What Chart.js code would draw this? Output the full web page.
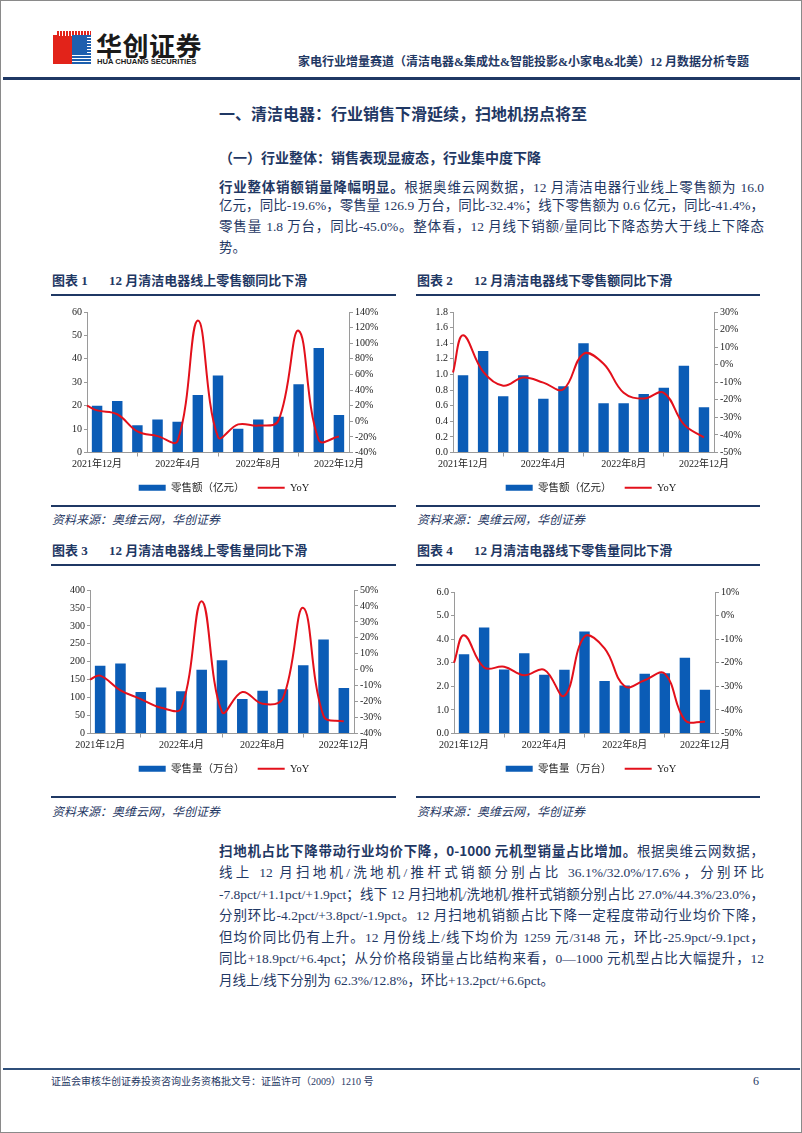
<!DOCTYPE html>
<html lang="zh-CN">
<head>
<meta charset="utf-8">
<title>家电行业增量赛道 - 清洁电器</title>
<script src="https://cdn.jsdelivr.net/npm/chart.js@4.4.1/dist/chart.umd.min.js"></script>
<style>
  html, body { margin: 0; padding: 0; background: #fff; }
  #page {
    position: relative; width: 802px; height: 1133px; box-sizing: border-box;
    border: 1px solid #8a8a8a; overflow: hidden;
    font-family: "Liberation Serif", "Noto Sans CJK SC", serif; color: #1f3864;
  }
  .abs { position: absolute; white-space: nowrap; }
  .rule { position: absolute; background: #1f3864; }
  .ln {
    position: absolute; left: 218px; width: 545px; height: 20px; line-height: 20px;
    font-size: 13.5px; text-align: justify; text-align-last: justify;
  }
  .ln.last { text-align-last: left; }
  .ln b { font-family: "Noto Sans CJK SC", sans-serif; font-weight: 700; }
  .ctitle { position: absolute; font-size: 13px; font-weight: 700; line-height: 16px;
            font-family: "Liberation Serif", "Noto Sans CJK SC", serif; white-space: nowrap; }
  .src { position: absolute; font-size: 12px; font-style: italic; line-height: 14px; white-space: nowrap; }
  canvas { position: absolute; }
  /* logo */
  #logo { position: absolute; left: 52px; top: 30px; width: 38px; height: 33px; }
  #logo .red { position: absolute; left: 0; top: 4px; width: 19px; height: 29px; background: #e2231a; }
  #logo .redtop { position: absolute; left: 4px; top: 0; width: 34px; height: 5px;
    background: repeating-linear-gradient(90deg, #e2231a 0 2px, #fff 2px 3px); }
  #logo .blue { position: absolute; left: 19px; top: 4px; width: 19px; height: 29px;
    background: repeating-linear-gradient(180deg, #1d5fae 0 2px, #fff 2px 3px); }
  #logo .bluein { position: absolute; left: 19px; top: 4px; width: 15px; height: 20px; background: #1d5fae; }
</style>
</head>
<body>
<div id="page">
  <!-- header -->
  <div id="logo"><div class="red"></div><div class="redtop"></div><div class="blue"></div><div class="bluein"></div></div>
  <div class="abs" style="left:95px;top:29px;font-size:26px;line-height:30px;font-weight:700;color:#1a1a1a;font-family:'Noto Sans CJK SC',sans-serif;letter-spacing:0.5px;">华创证券</div>
  <div class="abs" style="left:96px;top:56px;font-size:7.6px;line-height:10px;font-weight:700;color:#1a1a1a;font-family:'Liberation Sans',sans-serif;">HUA CHUANG SECURITIES</div>
  <div class="abs" style="left:297px;top:53px;font-size:12px;line-height:16px;font-weight:700;">家电行业增量赛道（清洁电器&amp;集成灶&amp;智能投影&amp;小家电&amp;北美）12 月数据分析专题</div>
  <div class="rule" style="left:2px;top:76px;width:797px;height:3px;"></div>

  <!-- section headings -->
  <div class="abs" style="left:218px;top:102px;font-size:16px;line-height:20px;font-weight:700;font-family:'Noto Sans CJK SC',sans-serif;">一、清洁电器：行业销售下滑延续，扫地机拐点将至</div>
  <div class="abs" style="left:218px;top:147px;font-size:14px;line-height:18px;font-weight:700;font-family:'Noto Sans CJK SC',sans-serif;">（一）行业整体：销售表现显疲态，行业集中度下降</div>

  <div class="ln" style="top:175px;"><b>行业整体销额销量降幅明显。</b>根据奥维云网数据，12 月清洁电器行业线上零售额为 16.0</div>
  <div class="ln" style="top:195px;">亿元，同比-19.6%，零售量 126.9 万台，同比-32.4%；线下零售额为 0.6 亿元，同比-41.4%，</div>
  <div class="ln" style="top:216px;">零售量 1.8 万台，同比-45.0%。整体看，12 月线下销额/量同比下降态势大于线上下降态</div>
  <div class="ln last" style="top:237px;">势。</div>

  <!-- chart titles row 1 -->
  <div class="ctitle" style="left:51px;top:272px;">图表 1</div>
  <div class="ctitle" style="left:108px;top:272px;">12 月清洁电器线上零售额同比下滑</div>
  <div class="rule" style="left:50px;top:293px;width:345px;height:1.5px;"></div>
  <div class="ctitle" style="left:416px;top:272px;">图表 2</div>
  <div class="ctitle" style="left:473px;top:272px;">12 月清洁电器线下零售额同比下滑</div>
  <div class="rule" style="left:415px;top:293px;width:344px;height:1.5px;"></div>

  <canvas id="c1" width="350" height="202" style="left:48px;top:300px;width:350px;height:202px;"></canvas>
  <canvas id="c2" width="350" height="202" style="left:415px;top:300px;width:350px;height:202px;"></canvas>

  <div class="rule" style="left:50px;top:504px;width:345px;height:1.5px;"></div>
  <div class="rule" style="left:415px;top:504px;width:344px;height:1.5px;"></div>
  <div class="src" style="left:51px;top:512px;">资料来源：奥维云网，华创证券</div>
  <div class="src" style="left:416px;top:512px;">资料来源：奥维云网，华创证券</div>

  <!-- chart titles row 2 -->
  <div class="ctitle" style="left:51px;top:542px;">图表 3</div>
  <div class="ctitle" style="left:108px;top:542px;">12 月清洁电器线上零售量同比下滑</div>
  <div class="rule" style="left:50px;top:563px;width:345px;height:1.5px;"></div>
  <div class="ctitle" style="left:416px;top:542px;">图表 4</div>
  <div class="ctitle" style="left:473px;top:542px;">12 月清洁电器线下零售量同比下滑</div>
  <div class="rule" style="left:415px;top:563px;width:344px;height:1.5px;"></div>

  <canvas id="c3" width="350" height="208" style="left:48px;top:575px;width:350px;height:208px;"></canvas>
  <canvas id="c4" width="350" height="208" style="left:415px;top:575px;width:350px;height:208px;"></canvas>

  <div class="rule" style="left:50px;top:795px;width:345px;height:1.5px;"></div>
  <div class="rule" style="left:415px;top:795px;width:344px;height:1.5px;"></div>
  <div class="src" style="left:51px;top:804px;">资料来源：奥维云网，华创证券</div>
  <div class="src" style="left:416px;top:804px;">资料来源：奥维云网，华创证券</div>

  <!-- second paragraph -->
  <div class="ln" style="top:839px;"><b>扫地机占比下降带动行业均价下降，0-1000 元机型销量占比增加。</b>根据奥维云网数据，</div>
  <div class="ln" style="top:862px;">线上 12 月扫地机/洗地机/推杆式销额分别占比 36.1%/32.0%/17.6%，分别环比</div>
  <div class="ln" style="top:884px;">-7.8pct/+1.1pct/+1.9pct；线下 12 月扫地机/洗地机/推杆式销额分别占比 27.0%/44.3%/23.0%，</div>
  <div class="ln" style="top:905px;">分别环比-4.2pct/+3.8pct/-1.9pct。12 月扫地机销额占比下降一定程度带动行业均价下降，</div>
  <div class="ln" style="top:927px;">但均价同比仍有上升。12 月份线上/线下均价为 1259 元/3148 元，环比-25.9pct/-9.1pct，</div>
  <div class="ln" style="top:948px;">同比+18.9pct/+6.4pct；从分价格段销量占比结构来看，0—1000 元机型占比大幅提升，12</div>
  <div class="ln last" style="top:970px;">月线上/线下分别为 62.3%/12.8%，环比+13.2pct/+6.6pct。</div>

  <!-- footer -->
  <div class="rule" style="left:2px;top:1067px;width:797px;height:2px;background:#2f4f7a;"></div>
  <div class="abs" style="left:50px;top:1074px;font-size:10px;line-height:13px;">证监会审核华创证券投资咨询业务资格批文号：证监许可（2009）1210 号</div>
  <div class="abs" style="left:752px;top:1073px;font-size:12px;line-height:14px;">6</div>
</div>

<script>
// categories
const months = ['2021年12月', '2022年1月', '2022年2月', '2022年3月', '2022年4月', '2022年5月',
  '2022年6月', '2022年7月', '2022年8月', '2022年9月', '2022年10月', '2022年11月', '2022年12月'];

// chart 1: online sales value (亿元) + YoY (%)
// yoy arrays start with the prior-month value, which sits on the axis edge
const onlineValue = [20.0, 22.0, 11.6, 14.1, 13.1, 24.6, 32.9, 10.1, 14.1, 15.3, 29.1, 44.6, 16.0];
const onlineValueYoy = [20, 14, 9, -13, -19, -25, 129, -20, -4, -5.5, 1, 116, -24, -19.6];

// chart 2: offline sales value (亿元) + YoY
const offlineValue = [0.99, 1.30, 0.72, 0.99, 0.69, 0.85, 1.40, 0.63, 0.63, 0.75, 0.83, 1.11, 0.58];
const offlineValueYoy = [-4.5, 16.7, -4, -12, -7.3, -10.2, -14, 6.2, 0.5, -16, -19.3, -16, -34, -41.4];

// chart 3: online sales volume (万台) + YoY
const onlineVolume = [189, 195, 116, 128, 118, 178, 204, 96, 119, 123, 190, 262, 127];
const onlineVolumeYoy = [-6.2, -3.7, -12.9, -18.4, -23.9, -24, 43, -26.5, -14, -21.4, -18, 38.8, -29, -32.4];

// chart 4: offline sales volume (万台) + YoY
const offlineVolume = [3.36, 4.50, 2.71, 3.40, 2.49, 2.70, 4.33, 2.23, 2.04, 2.53, 2.56, 3.21, 1.86];
const offlineVolumeYoy = [-20, -8.3, -22, -21.7, -25.3, -23, -34, -8.9, -13.9, -30, -27.4, -24.6, -44.3, -45];

const BLUE = '#0b5cb6';
const RED = '#e3101b';
const AXIS = '#9a9a9a';
const TICK_FONT = { family: "'Liberation Serif', 'Noto Sans CJK SC', serif", size: 10 };

function makeChart(id, cfg) {
  // yoy point 0 is on the left edge of the plot, the rest line up with the bars
  const linePts = cfg.yoy.map((v, i) => ({ x: i === 0 ? -0.5 : i - 1, y: v }));

  new Chart(document.getElementById(id), {
    type: 'bar',
    data: {
      labels: months,
      datasets: [
        {
          type: 'bar',
          label: cfg.barLabel + '\u3000',   // trailing space widens the gap before YoY
          data: cfg.bars,
          backgroundColor: BLUE,
          borderWidth: 0,
          grouped: false,
          barPercentage: 0.52,
          categoryPercentage: 1,
          xAxisID: 'x',
          yAxisID: 'y',
          order: 2,
          pointStyle: 'rect'
        },
        {
          type: 'line',
          label: 'YoY',
          data: linePts,
          borderColor: RED,
          backgroundColor: RED,
          borderWidth: 2,
          pointRadius: 0,
          tension: 0.4,
          fill: false,
          clip: false,
          xAxisID: 'x2',
          yAxisID: 'y1',
          order: 1,
          pointStyle: 'line'
        }
      ]
    },
    options: {
      responsive: false,
      animation: false,
      layout: { padding: { top: cfg.padTop, left: 0, right: 0, bottom: 0 } },
      plugins: {
        tooltip: { enabled: false },
        legend: {
          position: 'bottom',
          labels: {
            usePointStyle: true,
            pointStyleWidth: 27,
            boxHeight: 6,
            padding: 8,
            color: '#222',
            font: { family: "'Liberation Serif', 'Noto Sans CJK SC', serif", size: 10.5 },
            sort: (a, b) => a.datasetIndex - b.datasetIndex
          }
        }
      },
      scales: {
        x: {
          type: 'category',
          offset: true,
          grid: { offset: true, drawOnChartArea: false, tickLength: 4, color: AXIS },
          border: { color: AXIS },
          ticks: {
            autoSkip: false, maxRotation: 0, padding: 2, color: '#222', font: TICK_FONT,
            callback: function (v, i) { return i % 4 === 0 ? this.getLabelForValue(v) : null; }
          },
          afterFit: (a) => { a.height = cfg.xH; }
        },
        x2: { type: 'linear', display: false, offset: false, grid: { offset: false }, min: -0.5, max: 12.5 },
        y: {
          position: 'left',
          min: cfg.yMin, max: cfg.yMax,
          grid: { drawOnChartArea: false, tickLength: 3, color: AXIS },
          border: { color: AXIS },
          ticks: { stepSize: cfg.yStep, padding: 2, color: '#222', font: TICK_FONT,
                   callback: (v) => v.toFixed(cfg.yDec) },
          afterFit: (a) => { a.width = cfg.leftW; }
        },
        y1: {
          position: 'right',
          min: cfg.rMin, max: cfg.rMax,
          grid: { drawOnChartArea: false, tickLength: 4, color: AXIS },
          border: { color: AXIS },
          ticks: { stepSize: cfg.rStep, padding: 2, color: '#222', font: TICK_FONT,
                   callback: (v) => Math.round(v) + '%' },
          afterFit: (a) => { a.width = cfg.rightW; }
        }
      }
    }
  });
}

makeChart('c1', {
  bars: onlineValue, yoy: onlineValueYoy, barLabel: '零售额（亿元）',
  yMin: 0, yMax: 60, yStep: 10, yDec: 0, rMin: -40, rMax: 140, rStep: 20,
  leftW: 38, rightW: 50, padTop: 11, xH: 22
});
makeChart('c2', {
  bars: offlineValue, yoy: offlineValueYoy, barLabel: '零售额（亿元）',
  yMin: 0, yMax: 1.8, yStep: 0.2, yDec: 1, rMin: -50, rMax: 30, rStep: 10,
  leftW: 37, rightW: 52, padTop: 11, xH: 22
});
makeChart('c3', {
  bars: onlineVolume, yoy: onlineVolumeYoy, barLabel: '零售量（万台）',
  yMin: 0, yMax: 400, yStep: 50, yDec: 0, rMin: -40, rMax: 50, rStep: 10,
  leftW: 41, rightW: 45, padTop: 14, xH: 22
});
makeChart('c4', {
  bars: offlineVolume, yoy: offlineVolumeYoy, barLabel: '零售量（万台）',
  yMin: 0, yMax: 6, yStep: 1, yDec: 1, rMin: -50, rMax: 10, rStep: 10,
  leftW: 38, rightW: 51, padTop: 16, xH: 22
});
</script>
</body>
</html>
